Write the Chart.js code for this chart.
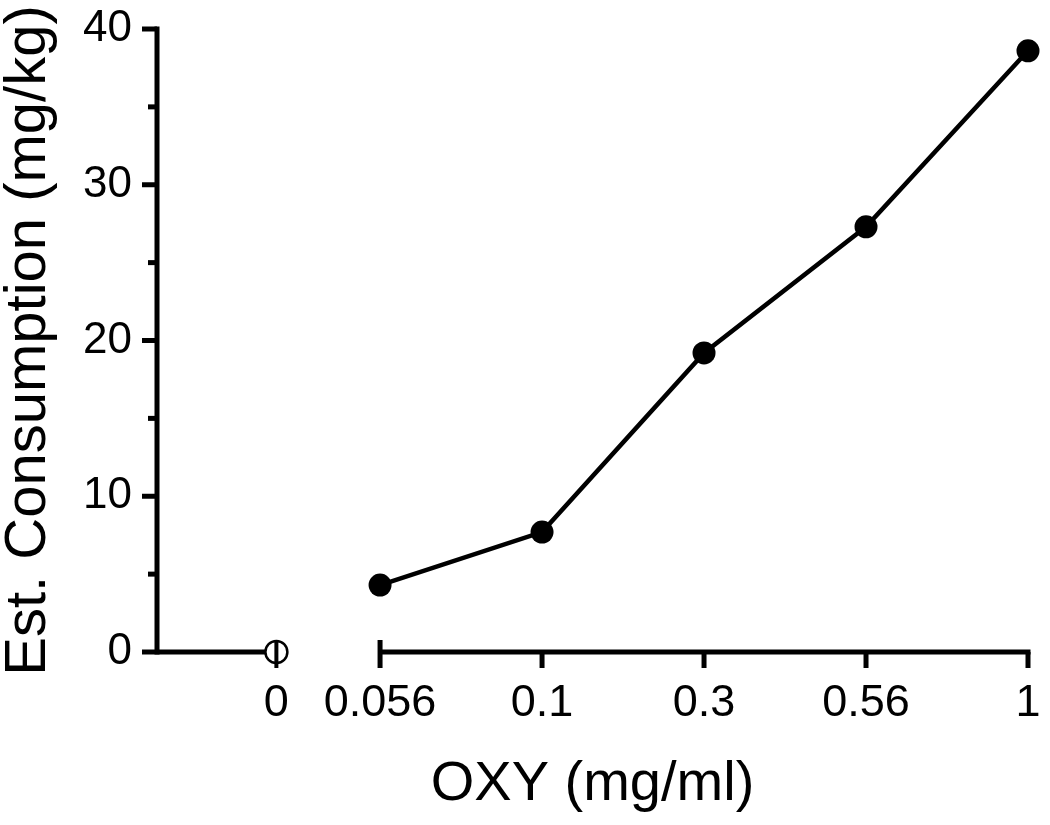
<!DOCTYPE html>
<html>
<head>
<meta charset="utf-8">
<script src="https://cdn.jsdelivr.net/npm/chart.js@4"></script>
<style>
  html, body { margin: 0; padding: 0; background: #fff; }
  #wrap { width: 1050px; height: 825px; }
</style>
</head>
<body>
<div id="wrap"><canvas id="myChart"></canvas></div>
<script>
// Dose groups (OXY mg/ml) and estimated consumption (mg/kg)
const doseLabels = ["0", "0.056", "0.1", "0.3", "0.56", "1"];
// ordinal slot of each dose group on the x axis (vehicle sits before the axis break)
const doseSlot = [-0.64, 0, 1, 2, 3, 4];
const controlValue = [0];
const consumption = [4.3, 7.7, 19.2, 27.3, 38.6];
const yTicks = [0, 10, 20, 30, 40];

const FONT = "'Liberation Sans', Arial, sans-serif";

// axis lines with the break between vehicle and first dose
const axisPlugin = {
  id: "brokenAxis",
  beforeDatasetsDraw(chart) {
    const { ctx, chartArea, scales } = chart;
    const x = scales.x, y = scales.y;
    const y0 = y.getPixelForValue(0);
    ctx.save();
    ctx.strokeStyle = "#000";
    ctx.lineWidth = 5;
    ctx.lineCap = "butt";

    // y axis line
    ctx.beginPath();
    ctx.moveTo(chartArea.left, y.getPixelForValue(40) - 2.5);
    ctx.lineTo(chartArea.left, y0 + 2.5);
    ctx.stroke();

    // y ticks (major every 10, minor every 5)
    for (let v = 0; v <= 40; v += 5) {
      const py = y.getPixelForValue(v);
      const len = v % 10 === 0 ? 15 : 9;
      ctx.beginPath();
      ctx.moveTo(chartArea.left - len, py);
      ctx.lineTo(chartArea.left, py);
      ctx.stroke();
    }

    // first x segment up to vehicle
    ctx.beginPath();
    ctx.moveTo(chartArea.left, y0);
    ctx.lineTo(x.getPixelForValue(doseSlot[0]), y0);
    ctx.stroke();

    // second x segment over the doses
    ctx.beginPath();
    ctx.moveTo(x.getPixelForValue(doseSlot[1]), y0);
    ctx.lineTo(x.getPixelForValue(doseSlot[doseSlot.length - 1]) + 2.5, y0);
    ctx.stroke();

    // x ticks
    doseSlot.slice(1).forEach((s, i) => {
      const px = x.getPixelForValue(s);
      ctx.beginPath();
      ctx.moveTo(px, i === 0 ? y0 - 12 : y0);
      ctx.lineTo(px, y0 + 16);
      ctx.stroke();
    });
    ctx.restore();
  },
  afterDatasetsDraw(chart) {
    const { ctx, scales } = chart;
    const px = scales.x.getPixelForValue(doseSlot[0]);
    const y0 = scales.y.getPixelForValue(0);
    ctx.save();
    ctx.strokeStyle = "#000";
    ctx.lineWidth = 4;
    ctx.beginPath();
    ctx.moveTo(px, y0 - 12);
    ctx.lineTo(px, y0 + 16);
    ctx.stroke();
    ctx.restore();
  },
};

const ctx = document.getElementById("myChart").getContext("2d");

new Chart(ctx, {
  type: "scatter",
  data: {
    datasets: [
      {
        label: "Vehicle",
        data: controlValue.map((v) => ({ x: doseSlot[0], y: v })),
        showLine: false,
        pointRadius: 11,
        pointBorderWidth: 2.5,
        pointBorderColor: "#000",
        pointBackgroundColor: "#fff",
        clip: false,
      },
      {
        label: "OXY",
        data: consumption.map((v, i) => ({ x: doseSlot[i + 1], y: v })),
        showLine: true,
        borderColor: "#000",
        borderWidth: 4.5,
        pointRadius: 11.5,
        pointBorderWidth: 0,
        pointBackgroundColor: "#000",
        clip: false,
      },
    ],
  },
  options: {
    responsive: true,
    maintainAspectRatio: false,
    animation: false,
    layout: {
      padding: { top: 29, right: 22, left: 0, bottom: 0 },
    },
    plugins: {
      legend: { display: false },
      tooltip: { enabled: false },
    },
    scales: {
      x: {
        type: "linear",
        min: -1.377,
        max: 4,
        afterBuildTicks: (scale) => {
          scale.ticks = doseSlot.map((s) => ({ value: s }));
        },
        afterFit: (scale) => {
          scale.height = 173;
          scale.paddingLeft = 0;
          scale.paddingRight = 0;
        },
        ticks: {
          autoSkip: false,
          maxRotation: 0,
          padding: 25,
          color: "#000",
          font: { family: FONT, size: 45 },
          callback: (value, index) => doseLabels[index],
        },
        grid: { drawOnChartArea: false, drawTicks: false, color: "transparent" },
        border: { display: false },
        title: {
          display: true,
          text: "OXY (mg/ml)",
          color: "#000",
          font: { family: FONT, size: 56, lineHeight: 1 },
          padding: { top: 0, bottom: 12 },
        },
      },
      y: {
        min: 0,
        max: 40,
        afterBuildTicks: (scale) => {
          scale.ticks = yTicks.map((v) => ({ value: v }));
        },
        afterFit: (scale) => {
          scale.width = 157;
          scale.paddingTop = 0;
          scale.paddingBottom = 0;
        },
        ticks: {
          padding: 25,
          color: "#000",
          font: { family: FONT, size: 44 },
        },
        grid: { drawOnChartArea: false, drawTicks: false, color: "transparent" },
        border: { display: false },
        title: {
          display: true,
          text: "Est. Consumption (mg/kg)",
          color: "#000",
          font: { family: FONT, size: 58, lineHeight: 1 },
          padding: { top: 0, bottom: 0 },
        },
      },
    },
  },
  plugins: [axisPlugin],
});
</script>
</body>
</html>
